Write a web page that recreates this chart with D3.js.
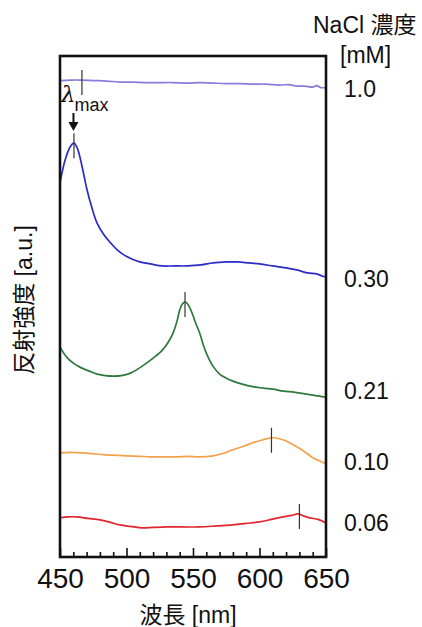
<!DOCTYPE html>
<html>
<head>
<meta charset="utf-8">
<script src="https://cdn.jsdelivr.net/npm/d3@7"></script>
<style>
  html, body { margin: 0; padding: 0; background: #fff; }
  svg { display: block; }
  text { font-family: "Liberation Sans", Arial, "Noto Sans CJK JP", sans-serif; fill: #111; }
</style>
</head>
<body>
<script>
// ---------- data ----------
const concentrations = ["1.0", "0.30", "0.21", "0.10", "0.06"];
const colors = ["#8a7bdc", "#2b2bc8", "#2e7a3c", "#f4a14c", "#e0262e"];
const xTicksMajor = [450, 500, 550, 600, 650];
const xTicksMinor = [460, 470, 480, 490, 510, 520, 530, 540, 560, 570, 580, 590, 610, 620, 630, 640];
const xLabel = "波長 [nm]";
const yLabel = "反射強度 [a.u.]";
const legendTitle1 = "NaCl 濃度";
const legendTitle2 = "[mM]";

// wavelength [nm] / reflectance [a.u., vertically offset]
const s10_nm  = [450, 458, 466, 475, 485, 495, 505, 515, 525, 535, 545, 555, 565, 575, 585, 595, 605, 615, 622, 628, 634, 640, 643, 646, 650];
const s10_val = [9.51, 9.52, 9.52, 9.51, 9.50, 9.48, 9.48, 9.47, 9.47, 9.47, 9.46, 9.47, 9.46, 9.45, 9.45, 9.44, 9.44, 9.42, 9.43, 9.40, 9.40, 9.38, 9.41, 9.37, 9.37];

const s030_nm  = [450, 453.8, 457.5, 460.5, 463, 465, 468, 470.3, 474, 477.8, 483, 488, 493, 498, 504, 510, 518, 527, 536, 546, 556, 565, 575, 583, 592, 600, 610, 620, 628, 636, 643, 647, 650];
const s030_val = [7.47, 7.92, 8.18, 8.26, 8.16, 7.98, 7.62, 7.33, 6.97, 6.67, 6.43, 6.27, 6.13, 6.03, 5.95, 5.89, 5.85, 5.81, 5.81, 5.81, 5.83, 5.87, 5.89, 5.89, 5.87, 5.85, 5.81, 5.77, 5.73, 5.67, 5.65, 5.61, 5.59];

const s021_nm  = [450, 455, 460, 465, 472, 478, 484, 490, 496, 503, 509, 515, 521, 527, 531, 535, 538, 540, 542, 544, 546, 549, 552, 555, 558, 561, 565, 570, 575, 580, 587, 595, 603, 610, 618, 626, 633, 640, 645, 650];
const s021_val = [4.19, 3.99, 3.87, 3.79, 3.71, 3.65, 3.62, 3.61, 3.62, 3.67, 3.76, 3.87, 3.99, 4.13, 4.27, 4.47, 4.71, 4.93, 5.05, 5.09, 5.05, 4.89, 4.67, 4.47, 4.21, 4.01, 3.81, 3.65, 3.57, 3.51, 3.45, 3.40, 3.37, 3.35, 3.31, 3.29, 3.26, 3.23, 3.21, 3.19];

const s010_nm  = [450, 458, 467, 475, 484, 492, 500, 510, 518, 528, 538, 546, 555, 565, 573, 580, 588, 595, 602.6, 610, 617.7, 624, 630.5, 636, 640, 645, 650];
const s010_val = [2.08, 2.09, 2.08, 2.06, 2.04, 2.03, 2.02, 2.01, 2.00, 2.00, 2.00, 2.01, 2.00, 2.02, 2.07, 2.14, 2.21, 2.28, 2.34, 2.38, 2.34, 2.26, 2.16, 2.06, 1.98, 1.92, 1.86];

const s006_nm  = [450, 456, 463, 471, 480, 488, 495, 503, 512, 520, 530, 542, 555, 568, 580, 590, 600, 609, 617.7, 624, 629, 633, 638, 644, 650];
const s006_val = [0.78, 0.80, 0.80, 0.77, 0.74, 0.69, 0.64, 0.61, 0.58, 0.59, 0.60, 0.60, 0.60, 0.62, 0.64, 0.67, 0.70, 0.75, 0.80, 0.83, 0.86, 0.82, 0.78, 0.75, 0.68];

// peak positions (lambda max) [nm]
const peakNm  = [466.5, 460.5, 544, 609, 630];
const peakVal = [9.52, 8.26, 5.09, 2.38, 0.86];

// label anchor values for concentration labels [a.u. scale]
const labelVal = [9.18, 5.39, 3.15, 1.74, 0.52];

// ---------- layout ----------
const W = 422, H = 627;
const plot = { left: 60, right: 326, top: 56, bottom: 557 };

const svg = d3.select("body").append("svg").attr("width", W).attr("height", H);

const x = d3.scaleLinear().domain([450, 650]).range([plot.left, plot.right]);
const y = d3.scaleLinear().domain([0, 10]).range([plot.bottom, plot.top]);

const seriesNm  = [s10_nm, s030_nm, s021_nm, s010_nm, s006_nm];
const seriesVal = [s10_val, s030_val, s021_val, s010_val, s006_val];

const line = d3.line().x(d => x(d[0])).y(d => y(d[1])).curve(d3.curveCatmullRom.alpha(0.5));

seriesNm.forEach((nm, i) => {
  const pts = nm.map((v, j) => [v, seriesVal[i][j]]);
  svg.append("path")
    .attr("d", line(pts))
    .attr("fill", "none")
    .attr("stroke", colors[i])
    .attr("stroke-width", 1.7);
});

// peak markers
peakNm.forEach((nm, i) => {
  svg.append("line")
    .attr("x1", x(nm)).attr("x2", x(nm))
    .attr("y1", y(peakVal[i]) - 10).attr("y2", y(peakVal[i]) + 15)
    .attr("stroke", "#333").attr("stroke-width", 1.2);
});

// x axis (inward ticks)
const axMajor = d3.axisBottom(x).tickValues(xTicksMajor).tickSizeInner(-9).tickSizeOuter(0).tickPadding(0).tickFormat(d3.format("d"));
const gMajor = svg.append("g").attr("transform", `translate(0,${plot.bottom})`).call(axMajor);
gMajor.select(".domain").remove();
gMajor.selectAll(".tick line").attr("stroke", "#111").attr("stroke-width", 1.6);
gMajor.selectAll(".tick text")
  .attr("y", 31).attr("dy", null)
  .attr("font-size", 28).attr("fill", "#111")
  .style("font-family", "'Liberation Sans', Arial, sans-serif");

const axMinor = d3.axisBottom(x).tickValues(xTicksMinor).tickSizeInner(-5).tickSizeOuter(0).tickFormat("");
const gMinor = svg.append("g").attr("transform", `translate(0,${plot.bottom})`).call(axMinor);
gMinor.select(".domain").remove();
gMinor.selectAll(".tick line").attr("stroke", "#111").attr("stroke-width", 1.6);

// frame
svg.append("rect")
  .attr("x", plot.left).attr("y", plot.top)
  .attr("width", plot.right - plot.left).attr("height", plot.bottom - plot.top)
  .attr("fill", "none").attr("stroke", "#111").attr("stroke-width", 2.6);

// axis labels
svg.append("text")
  .attr("x", 188).attr("y", 623)
  .attr("text-anchor", "middle").attr("font-size", 23)
  .text(xLabel);

svg.append("text")
  .attr("transform", `translate(32,300) rotate(-90)`)
  .attr("text-anchor", "middle").attr("font-size", 23)
  .text(yLabel);

// concentration labels
svg.append("text").attr("x", 313).attr("y", 33).attr("font-size", 23).text(legendTitle1);
svg.append("text").attr("x", 340).attr("y", 63).attr("font-size", 23).text(legendTitle2);
concentrations.forEach((c, i) => {
  svg.append("text")
    .attr("x", 344).attr("y", y(labelVal[i]))
    .attr("font-size", 23)
    .text(c);
});

// lambda max annotation
const lam = svg.append("text").attr("x", 61).attr("y", 102);
lam.append("tspan")
  .attr("font-size", 23).attr("font-style", "italic")
  .style("font-family", "'DejaVu Serif', 'Liberation Serif', serif")
  .text("λ");
lam.append("tspan")
  .attr("font-size", 18).attr("dy", 9).attr("dx", -1)
  .text("max");

// arrow
const ax0 = x(peakNm[1]) - 0.5;
svg.append("line")
  .attr("x1", ax0).attr("x2", ax0).attr("y1", 113).attr("y2", 123)
  .attr("stroke", "#111").attr("stroke-width", 2);
svg.append("path")
  .attr("d", `M${ax0 - 5},${122} L${ax0 + 5},${122} L${ax0},${131} Z`)
  .attr("fill", "#111");
</script>
</body>
</html>
